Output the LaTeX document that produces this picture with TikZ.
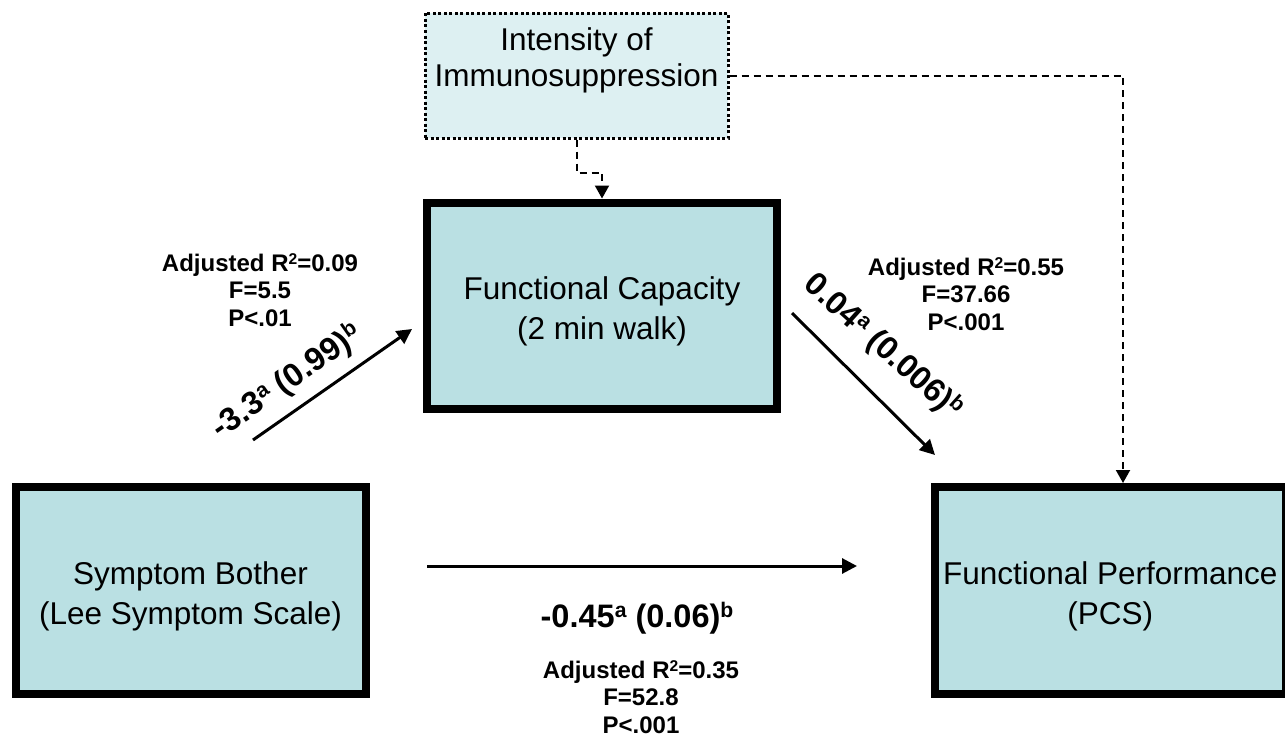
\documentclass[tikz,border=0pt]{standalone}
\usepackage{graphicx}
\usepackage{fontspec}
\setmainfont{Liberation Sans}
\usetikzlibrary{arrows.meta}
\definecolor{boxfill}{HTML}{BAE0E3}
\definecolor{imsfill}{HTML}{DDF0F2}
\newcommand\supr[1]{\raisebox{0.3em}{\scalebox{0.65}{#1}}}
\newcommand\topstrut{\rule{0pt}{35pt}}
\tikzset{
  mainbox/.style={draw=black, line width=8pt, fill=boxfill, inner sep=0pt, align=center,
    font=\fontsize{31.5}{40}\selectfont},
  imsbox/.style={draw=black, line width=3pt, dash pattern=on 3pt off 2.5pt, fill=imsfill,
    minimum width=303pt, minimum height=125pt, inner sep=0pt},
  imslabel/.style={align=center, font=\fontsize{31.5}{36}\selectfont, inner sep=0pt},
  stat/.style={align=center, font=\bfseries\fontsize{24}{27.5}\selectfont, inner sep=0pt},
  coef/.style={font=\bfseries\fontsize{32.5}{38}\selectfont, inner sep=0pt},
  solidarrow/.style={line width=3pt, -{Triangle[length=15pt,width=15pt]}},
  dasharrow/.style={line width=2pt, dash pattern=on 7pt off 5pt, -{Triangle[length=13pt,width=14pt]}},
}
\begin{document}
\begin{tikzpicture}[x=1pt,y=-1pt]
\useasboundingbox (0,0) rectangle (1285,736);
% boxes
\node[imsbox, label={[imslabel, name=imstext, yshift=15.5pt]center:{Intensity of\\Immunosuppression}}] (ims) at (576.5,75.5) {};
\node[mainbox, minimum width=350pt, minimum height=206.5pt] (fc) at (602,305.75) {\topstrut Functional Capacity\\(2 min walk)};
\node[mainbox, minimum width=350pt, minimum height=207pt] (sb) at (190.5,590.5) {\topstrut Symptom Bother\\(Lee Symptom Scale)};
\node[mainbox, minimum width=351.5pt, minimum height=207pt] (pcs) at (1110.25,590.5) {\topstrut Functional Performance\\(PCS)};
% free arrow ends
\coordinate (a1s) at (253,440);
\coordinate (a1e) at (412,329);
\coordinate (a2s) at (792,313);
\coordinate (a2e) at (935,455);
\coordinate (a3s) at (427,566);
\coordinate (a3e) at (857,566);
\coordinate (pcsx) at (1123,0);
% connectors
\draw[solidarrow] (a1s) -- (a1e);
\draw[solidarrow] (a2s) -- (a2e);
\draw[solidarrow] (a3s) -- (a3e);
\draw[dasharrow] (ims.south) -- ++(0,33) -| (fc.north);
\draw[dasharrow] (ims.east) -| (pcsx |- pcs.north);
% labels
\node[stat] (st1) at (260,290) {Adjusted R\supr{2}=0.09\\F=5.5\\P<.01};
\node[stat] (st2) at (966,294) {Adjusted R\supr{2}=0.55\\F=37.66\\P<.001};
\node[stat] (st3) at (641,697) {Adjusted R\supr{2}=0.35\\F=52.8\\P<.001};
\node[coef, rotate=35] (c1) at (287,382) {-3.3\supr{a} (0.99)\supr{b}};
\node[coef, rotate=-42] (c2) at (883,347) {0.04\supr{a} (0.006)\supr{b}};
\node[coef] (c3) at (637,618) {-0.45\supr{a} (0.06)\supr{b}};
\end{tikzpicture}
\end{document}
